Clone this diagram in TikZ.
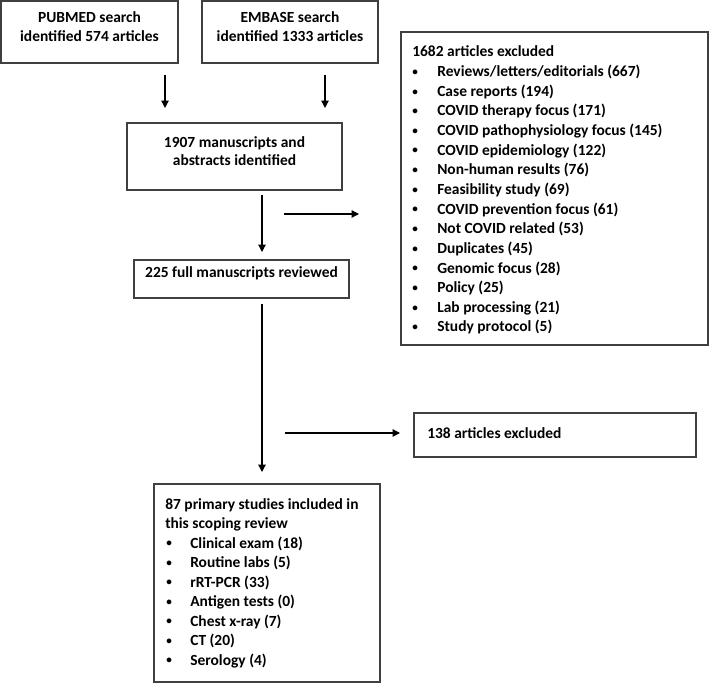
\documentclass[tikz,border=0pt]{standalone}
\usepackage{fontspec}
\setmainfont{Carlito}
\usepackage{graphicx}
\usetikzlibrary{arrows.meta,fit}
\newcommand{\smallbul}{\raisebox{0.9pt}{\scalebox{0.72}{\textbullet}}}
\begin{document}
\begin{tikzpicture}[x=0.75pt,y=-0.75pt,
  box/.style={draw=black!75, line width=0.9pt, inner sep=0pt, align=center,
    font=\fontsize{11.6pt}{14pt}\selectfont\bfseries},
  arr/.style={draw=black, line width=0.9pt, -{Triangle[length=5.5pt,width=5.5pt]}},
  txt/.style={inner sep=0pt, anchor=base west, font=\fontsize{11.6pt}{14pt}\selectfont\bfseries}]
\useasboundingbox (0,0) rectangle (709,684);

% boxes
\node[box, fit={(1,1)(178,63)}] (pub) {PUBMED search\\identified 574 articles};
\node[box, fit={(202,1)(378,63)}] (emb) {EMBASE search\\identified 1333 articles};
\node[box, fit={(127,123)(342,190)}] (m1907) {1907 manuscripts and\\abstracts identified};
\node[box, fit={(134,260)(349,298)}] (m225) {225 full manuscripts reviewed};
\node[box, fit={(401,32)(708,345)}] (ex1682) {};
\node[box, fit={(414,413)(696,457)}] (ex138) {};
\node[box, fit={(154,484)(380,682)}] (inc) {};

% text of the list boxes
\node[txt] (t138) at (427,438) {138 articles excluded};
\node[txt] (h1682) at (412,57) {1682 articles excluded};
\foreach [count=\i] \t in {Reviews/letters/editorials (667), Case reports (194),
  COVID therapy focus (171), COVID pathophysiology focus (145),
  COVID epidemiology (122), Non-human results (76), Feasibility study (69),
  COVID prevention focus (61), Not COVID related (53), Duplicates (45),
  Genomic focus (28), Policy (25), Lab processing (21), Study protocol (5)}{
  \node[txt] (eb\i) at (412,57+19.64*\i) {\smallbul};
  \node[txt] (et\i) at (437,57+19.64*\i) {\t};
}
\node[txt] (h87a) at (165,509) {87 primary studies included in};
\node[txt] (h87b) at (165,528.5) {this scoping review};
\foreach [count=\i] \t in {Clinical exam (18), Routine labs (5), rRT-PCR (33),
  Antigen tests (0), Chest x-ray (7), CT (20), Serology (4)}{
  \node[txt] (ib\i) at (166,528.5+19.5*\i) {\smallbul};
  \node[txt] (it\i) at (190,528.5+19.5*\i) {\t};
}

% arrow end points
\coordinate (a1s) at (165,75);  \coordinate (a1e) at (165,108);
\coordinate (a2s) at (325,75);  \coordinate (a2e) at (325,108);
\coordinate (a3s) at (262,195); \coordinate (a3e) at (262,252);
\coordinate (a4s) at (284,214); \coordinate (a4e) at (359,214);
\coordinate (a5s) at (262,304); \coordinate (a5e) at (262,472);
\coordinate (a6s) at (285,433); \coordinate (a6e) at (400,433);

\draw[arr] (a1s) -- (a1e);
\draw[arr] (a2s) -- (a2e);
\draw[arr] (a3s) -- (a3e);
\draw[arr] (a4s) -- (a4e);
\draw[arr] (a5s) -- (a5e);
\draw[arr] (a6s) -- (a6e);
\end{tikzpicture}
\end{document}
